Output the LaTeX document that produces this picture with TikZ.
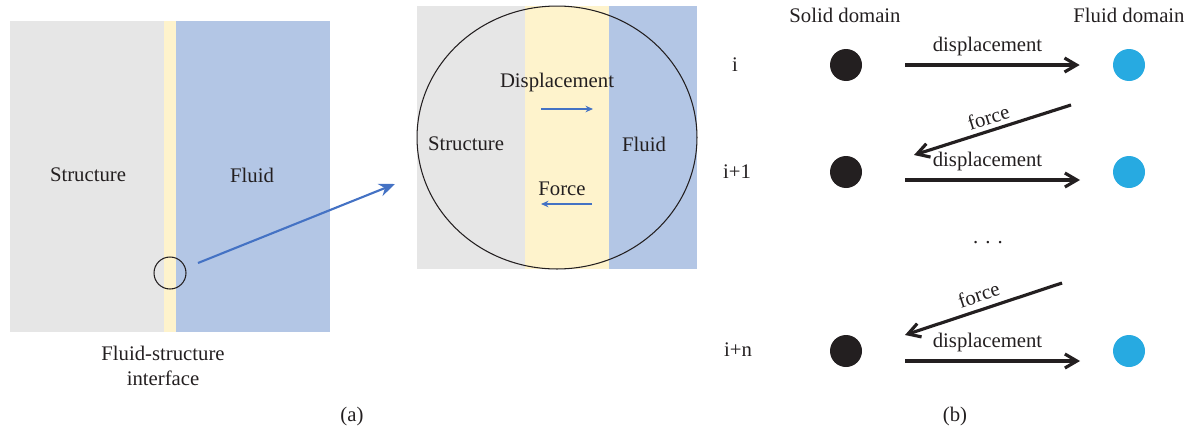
\documentclass[tikz,border=0pt]{standalone}
\usepackage{fontspec}
\setmainfont{Liberation Serif}
\usepackage{xcolor}
\usetikzlibrary{positioning,arrows.meta,shapes.geometric}

\definecolor{ink}{HTML}{231F20}
\definecolor{solidgray}{HTML}{E6E6E6}
\definecolor{ifyellow}{HTML}{FEF3CC}
\definecolor{fluidblue}{HTML}{B3C6E5}
\definecolor{linkblue}{HTML}{4472C4}
\definecolor{fluidcyan}{HTML}{27AAE1}

\begin{document}
\begin{tikzpicture}[
  x=0.02cm, y=-0.02cm,
  lbl/.style={font=\fontsize{11.8}{14}\selectfont, text=ink, inner sep=1pt, align=center},
  soliddot/.style={circle, fill=ink, minimum size=0.64cm, inner sep=0pt},
  fluiddot/.style={circle, fill=fluidcyan, minimum size=0.64cm, inner sep=0pt},
  xfer/.style={-{Straight Barb[length=2.4mm,width=2.8mm]}, line width=1.8pt, draw=ink},
  zoomarr/.style={-{Stealth[length=3.2mm,width=2.6mm]}, line width=1.2pt, draw=linkblue},
  tinyarr/.style={-{Stealth[length=1.5mm,width=1.3mm]}, line width=0.7pt, draw=linkblue},
]
\useasboundingbox (0,0) rectangle (1193,430);

% (a) interface
\fill[solidgray] (10,21) rectangle (164,332);
\fill[ifyellow] (164,21) rectangle (176,332);
\fill[fluidblue] (176,21) rectangle (330,332);
\node[lbl] (structA) at (88,175) {Structure};
\node[lbl] (fluidA) at (252,175) {Fluid};
\node[lbl] (iface) at (163,366) {Fluid-structure\\interface};
\node[draw=ink, circle, minimum size=0.64cm, inner sep=0pt, line width=0.6pt] (lens) at (170,273) {};

% zoomed view
\fill[solidgray] (417,6) rectangle (525,269);
\fill[ifyellow] (525,6) rectangle (609,269);
\fill[fluidblue] (609,6) rectangle (697,269);
\node[draw=ink, ellipse, minimum width=5.6cm, minimum height=5.26cm, inner sep=0pt, line width=0.6pt] (zoom) at (557,137.5) {};
\node[lbl] (dispZ) at (557,83) {Displacement};
\node[lbl] (structZ) at (466,144) {Structure};
\node[lbl] (fluidZ) at (644,144) {Fluid};
\node[lbl] (forceZ) at (562,189) {Force};
\coordinate (dispL) at (541,109);
\coordinate (dispR) at (593,109);
\coordinate (forceR) at (592,204);
\coordinate (forceL) at (541,204);
\draw[tinyarr] (dispL) -- (dispR);
\draw[tinyarr] (forceR) -- (forceL);

\coordinate (ztail) at (198,263);
\coordinate (ztip) at (395,184);
\draw[zoomarr] (ztail) -- (ztip);

\node[lbl] (capA) at (352,417) {(a)};

% (b) coupling steps
\node[lbl] (soltitle) at (845,15) {Solid domain};
\node[lbl] (flutitle) at (1129,15) {Fluid domain};

\node[lbl] (stepi) at (735,65) {i};
\node[lbl] (stepi1) at (737,172) {i+1};
\node[lbl] (stepin) at (738,350) {i+n};

\node[soliddot] (s1) at (846,65) {};
\node[fluiddot] (f1) at (1129,65) {};
\node[soliddot] (s2) at (846,172) {};
\node[fluiddot] (f2) at (1129,172) {};
\node[soliddot] (s3) at (846,351) {};
\node[fluiddot] (f3) at (1129,351) {};

\draw[xfer, shorten <=0.86cm, shorten >=0.66cm] (s1) -- node[lbl, above=3pt] {displacement} (f1);
\draw[xfer, shorten <=1.18cm, shorten >=0.98cm] ([yshift=-0.16cm]s2.center) -- node[lbl, above=3pt] {displacement} ([yshift=-0.16cm]f2.center);
\draw[xfer, shorten <=1.18cm, shorten >=0.98cm] ([yshift=-0.2cm]s3.center) -- node[lbl, above=3pt] {displacement} ([yshift=-0.2cm]f3.center);

\coordinate (fa1) at (1071,105);
\coordinate (fb1) at (914,155);
\coordinate (fa2) at (1062,283);
\coordinate (fb2) at (905,335);
\draw[xfer] (fa1) -- node[lbl, above=1.5pt, sloped] {force} (fb1);
\draw[xfer] (fa2) -- node[lbl, above=2.5pt, sloped] {force} (fb2);

\node[lbl] (more) at (988,243) {.\hspace{4pt}.\hspace{4pt}.};

\node[lbl] (capB) at (955,417) {(b)};
\end{tikzpicture}
\end{document}
